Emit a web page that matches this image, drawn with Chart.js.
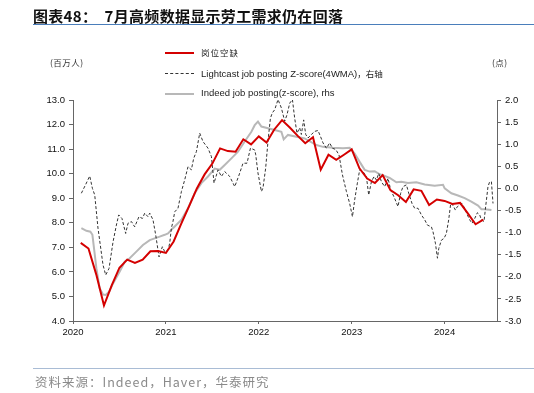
<!DOCTYPE html>
<html>
<head>
<meta charset="utf-8">
<script src="https://cdn.jsdelivr.net/npm/chart.js@4.4.1/dist/chart.umd.min.js"></script>
<style>
  html, body { margin: 0; padding: 0; background: #fff; }
  #wrap { position: relative; width: 534px; height: 393px; overflow: hidden; font-family: "Liberation Sans", Arial, "Noto Sans CJK SC", sans-serif; }
  #chart { position: absolute; left: 0; top: 0; }
  .abs { position: absolute; white-space: nowrap; }
  #title { left: 33px; top: 5px; font: bold 15px "Noto Sans CJK SC", sans-serif; color: #111; letter-spacing: 0.3px; }
  #titleLine { left: 33px; top: 24px; width: 501px; height: 0; border-top: 1.5px solid #4A7EBB; }
  #footLine { left: 33px; top: 368px; width: 501px; height: 0; border-top: 1.5px solid #A9BCD5; }
  #foot { left: 35px; top: 372px; font: 12.5px "Noto Sans CJK SC", sans-serif; color: #8a8a8a; letter-spacing: 1px; }
  .lg { font-size: 9.5px; color: #222; }
  .unit { font: 8.5px "Noto Sans CJK SC", sans-serif; color: #333; letter-spacing: 0.5px; }
  .sw { position: absolute; left: 165px; width: 29px; height: 0; }
</style>
</head>
<body>
<div id="wrap">
  <canvas id="chart" width="534" height="393"></canvas>
  <div id="title" class="abs">图表48：&nbsp;&nbsp;7月高频数据显示劳工需求仍在回落</div>
  <div id="titleLine" class="abs"></div>

  <div class="sw" style="top:52px;border-top:2px solid #D40000;"></div>
  <div class="abs lg" style="left:201px;top:46px;font-family:'Noto Sans CJK SC',sans-serif;font-size:8.5px;letter-spacing:1px;">岗位空缺</div>
  <div class="sw" style="top:73px;border-top:1px dashed #333;"></div>
  <div class="abs lg" style="left:201px;top:67px;">Lightcast job posting Z-score(4WMA)<span style="font-family:'Noto Sans CJK SC',sans-serif;font-size:8.5px;">，右轴</span></div>
  <div class="sw" style="top:93px;border-top:2px solid #B8B8B8;"></div>
  <div class="abs lg" style="left:201px;top:87px;">Indeed job posting(z-score), rhs</div>

  <div class="abs unit" style="left:50px;top:56px;">(百万人)</div>
  <div class="abs unit" style="left:492px;top:56px;">(点)</div>

  <div id="footLine" class="abs"></div>
  <div id="foot" class="abs">资料来源：Indeed，Haver，华泰研究</div>
</div>
<script>
// ---- Data ----
// Job openings (岗位空缺), millions, monthly, left axis
const openingsMonths = [
  '2020-01','2020-02','2020-03','2020-04','2020-05','2020-06','2020-07','2020-08','2020-09','2020-10','2020-11','2020-12',
  '2021-01','2021-02','2021-03','2021-04','2021-05','2021-06','2021-07','2021-08','2021-09','2021-10','2021-11','2021-12',
  '2022-01','2022-02','2022-03','2022-04','2022-05','2022-06','2022-07','2022-08','2022-09','2022-10','2022-11','2022-12',
  '2023-01','2023-02','2023-03','2023-04','2023-05','2023-06','2023-07','2023-08','2023-09','2023-10','2023-11','2023-12',
  '2024-01','2024-02','2024-03','2024-04','2024-05'
];
const openingsValues = [
  7.18, 6.95, 5.90, 4.63, 5.45, 6.17, 6.50, 6.37, 6.50, 6.84, 6.85, 6.77,
  7.24, 7.98, 8.68, 9.40, 9.97, 10.41, 11.03, 10.92, 10.89, 11.40, 11.19, 11.52,
  11.27, 11.80, 12.18, 11.88, 11.55, 11.24, 11.48, 10.16, 10.77, 10.56, 10.77, 10.99,
  10.22, 9.80, 9.62, 9.94, 9.33, 9.12, 8.85, 9.36, 9.30, 8.72, 8.95, 8.89,
  8.77, 8.81, 8.38, 7.94, 8.13
];

// Lightcast job posting Z-score (4WMA), right axis; time in fractional years
const lightcastTime = [
  2020.090,2020.137,2020.180,2020.209,2020.234,2020.269,2020.323,2020.352,2020.388,2020.431,
  2020.467,2020.492,2020.527,2020.567,2020.592,2020.629,2020.664,2020.710,2020.747,2020.772,
  2020.807,2020.826,2020.861,2020.890,2020.926,2020.962,2020.987,2021.023,2021.041,2021.059,
  2021.076,2021.095,2021.130,2021.167,2021.202,2021.238,2021.274,2021.299,2021.328,2021.364,
  2021.399,2021.453,2021.490,2021.518,2021.561,2021.597,2021.633,2021.687,2021.741,2021.787,
  2021.830,2021.873,2021.910,2021.956,2021.967,2021.991,2022.028,2022.045,2022.074,2022.099,
  2022.125,2022.146,2022.171,2022.207,2022.243,2022.279,2022.304,2022.333,2022.362,2022.386,
  2022.411,2022.440,2022.458,2022.483,2022.505,2022.530,2022.566,2022.602,2022.637,2022.663,
  2022.691,2022.728,2022.763,2022.792,2022.828,2022.863,2022.900,2022.943,2022.978,2023.008,
  2023.032,2023.061,2023.086,2023.122,2023.158,2023.183,2023.212,2023.240,2023.266,2023.291,
  2023.320,2023.355,2023.391,2023.420,2023.455,2023.498,2023.527,2023.552,2023.589,2023.614,
  2023.649,2023.678,2023.714,2023.750,2023.786,2023.815,2023.858,2023.875,2023.901,2023.923,
  2023.937,2023.966,2023.994,2024.019,2024.044,2024.066,2024.090,2024.116,2024.138,2024.163,
  2024.187,2024.216,2024.245,2024.270,2024.295,2024.324,2024.353,2024.378,2024.396,2024.424,
  2024.442,2024.467,2024.485,2024.504,2024.521
];
const lightcastValues = [
  -0.11, 0.09, 0.28, 0.00,-0.15,-0.90,-1.73,-1.96,-1.81,-1.21,
  -0.83,-0.60,-0.68,-1.02,-0.79,-0.75,-0.87,-0.64,-0.68,-0.56,
  -0.64,-0.56,-0.71,-1.05,-1.55,-1.32,-1.43,-1.39,-1.24,-0.90,
  -0.75,-0.53,-0.45,-0.07, 0.19, 0.49, 0.42, 0.68, 0.83, 1.25,
   1.06, 0.91, 0.72, 0.12, 0.42, 0.27, 0.38, 0.27, 0.04, 0.30,
   0.57, 0.57, 0.91, 0.87, 0.76, 0.35,-0.07, 0.01, 0.46, 1.07,
   1.59, 1.71, 1.78, 2.01, 1.82, 1.52, 1.67, 1.93, 2.01, 1.59,
   1.25, 1.37, 1.22, 1.55, 1.22, 1.14, 1.22, 1.29, 1.31, 1.18,
   1.03, 0.91, 1.03, 0.91, 0.88, 0.76, 0.31,-0.07,-0.34,-0.64,
  -0.26, 0.12, 0.42, 0.38, 0.27,-0.15, 0.15, 0.27, 0.19, 0.34,
   0.15, 0.04, 0.23,-0.04,-0.19,-0.41,-0.11, 0.04, 0.08,-0.11,
  -0.34,-0.45,-0.45,-0.60,-0.71,-0.83,-0.87,-0.98,-1.24,-1.58,
  -1.36,-1.17,-1.13,-1.02,-0.71,-0.34,-0.38,-0.49,-0.41,-0.38,
  -0.34,-0.45,-0.60,-0.71,-0.79,-0.68,-0.55,-0.60,-0.71,-0.75,
  -0.41, 0.04, 0.15, 0.15,-0.34
];

// Indeed job posting (z-score), right axis; time in fractional years
const indeedTime = [
  2020.090,2020.144,2020.187,2020.209,2020.252,2020.287,2020.323,2020.352,2020.388,2020.431,
  2020.503,2020.557,2020.610,2020.682,2020.753,2020.826,2020.879,2020.933,2020.987,2021.023,
  2021.076,2021.149,2021.167,2021.238,2021.310,2021.382,2021.453,2021.525,2021.579,2021.633,
  2021.705,2021.776,2021.848,2021.920,2021.956,2021.991,2022.028,2022.099,2022.171,2022.243,
  2022.268,2022.314,2022.405,2022.494,2022.620,2022.691,2022.799,2022.906,2022.978,2023.032,
  2023.086,2023.140,2023.194,2023.248,2023.301,2023.355,2023.409,2023.481,2023.535,2023.606,
  2023.696,2023.786,2023.893,2023.983,2024.001,2024.073,2024.144,2024.216,2024.288,2024.360,
  2024.396,2024.432,2024.504
];
const indeedValues = [
  -0.90,-0.96,-0.98,-1.05,-1.81,-2.26,-2.40,-2.41,-2.34,-2.15,
  -1.88,-1.66,-1.58,-1.43,-1.28,-1.17,-1.13,-1.09,-1.05,-1.02,
  -0.90,-0.75,-0.71,-0.45,-0.11, 0.12, 0.27, 0.45, 0.42, 0.53,
   0.68, 0.83, 1.06, 1.28, 1.43, 1.51, 1.40, 1.36, 1.32, 1.28,
   1.11, 1.21, 1.17, 1.13, 0.98, 0.94, 0.92, 0.91, 0.92, 0.79,
   0.60, 0.42, 0.38, 0.39, 0.32, 0.28, 0.24, 0.14, 0.15, 0.12,
   0.14, 0.09, 0.06, 0.08, 0.00,-0.11,-0.16,-0.22,-0.30,-0.39,
  -0.47,-0.47,-0.49
];

// Axis ticks
const xTickYears = [2020, 2021, 2022, 2023, 2024];
const leftTicks = [4, 5, 6, 7, 8, 9, 10, 11, 12, 13];
const rightTicks = [-3, -2.5, -2, -1.5, -1, -0.5, 0, 0.5, 1, 1.5, 2];

// ---- Build series ----
function monthToX(s) {
  const [y, m] = s.split('-').map(Number);
  return y + m / 12;
}
const openingsData = openingsMonths.map((m, i) => ({ x: monthToX(m), y: openingsValues[i] }));
const lightcastData = lightcastTime.map((t, i) => ({ x: t, y: lightcastValues[i] }));
const indeedData = indeedTime.map((t, i) => ({ x: t, y: indeedValues[i] }));

const TARGET = { left: 73, right: 497, top: 100, bottom: 321 };
const W = 534, H = 393;
const tickFont = { family: '"Liberation Sans", Arial, sans-serif', size: 9.5 };
const axisColor = '#666';

const chart = new Chart(document.getElementById('chart'), {
  type: 'line',
  data: {
    datasets: [
      { label: '岗位空缺', data: openingsData, yAxisID: 'y', borderColor: '#D40000', borderWidth: 2, pointRadius: 0, tension: 0 },
      { label: 'Lightcast', data: lightcastData, yAxisID: 'y1', borderColor: '#333', borderWidth: 1, borderDash: [3, 2], pointRadius: 0, tension: 0 },
      { label: 'Indeed', data: indeedData, yAxisID: 'y1', borderColor: '#B8B8B8', borderWidth: 2, pointRadius: 0, tension: 0 }
    ]
  },
  options: {
    responsive: false,
    animation: false,
    events: [],
    layout: { padding: { top: TARGET.top, bottom: 50, left: 0, right: 0 } },
    plugins: { legend: { display: false }, tooltip: { enabled: false } },
    scales: {
      x: {
        type: 'linear',
        min: 2020,
        max: 2024.564,
        afterBuildTicks: (s) => { s.ticks = xTickYears.map(v => ({ value: v })); },
        afterFit: (s) => { s.height = H - TARGET.bottom - 50; },
        ticks: { font: tickFont, color: '#111', padding: 3, maxRotation: 0, callback: (v) => String(v) },
        grid: { drawOnChartArea: false, drawTicks: true, tickLength: 3, color: axisColor },
        border: { color: axisColor, width: 1 }
      },
      y: {
        position: 'left',
        min: 4, max: 13,
        afterBuildTicks: (s) => { s.ticks = leftTicks.map(v => ({ value: v })); },
        afterFit: (s) => { s.width = TARGET.left; },
        ticks: { font: tickFont, color: '#111', padding: 4, callback: (v) => Number(v).toFixed(1) },
        grid: { drawOnChartArea: false, drawTicks: true, tickLength: 4, color: axisColor },
        border: { color: axisColor, width: 1 }
      },
      y1: {
        position: 'right',
        min: -3, max: 2,
        afterBuildTicks: (s) => { s.ticks = rightTicks.map(v => ({ value: v })); },
        afterFit: (s) => { s.width = W - TARGET.right; },
        ticks: { font: tickFont, color: '#111', padding: 4, callback: (v) => Number(v).toFixed(1) },
        grid: { drawOnChartArea: false, drawTicks: true, tickLength: 4, color: axisColor },
        border: { color: axisColor, width: 1 }
      }
    }
  }
});

// Fine-tune layout so the plot area lands where the reference has it
for (let k = 0; k < 2; k++) {
  const a = chart.chartArea;
  const p = chart.options.layout.padding;
  p.top += TARGET.top - a.top;
  p.left += TARGET.left - a.left;
  p.right += a.right - TARGET.right;
  p.bottom += a.bottom - TARGET.bottom;
  chart.update('none');
}
</script>
</body>
</html>
